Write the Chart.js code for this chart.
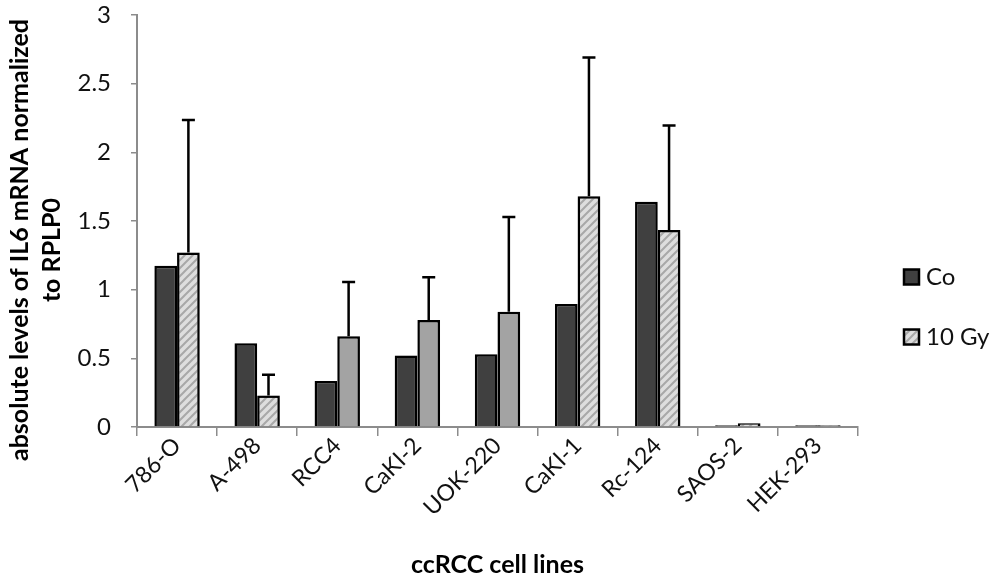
<!DOCTYPE html>
<html>
<head>
<meta charset="utf-8">
<script src="https://cdn.jsdelivr.net/npm/chart.js@4/dist/chart.umd.min.js"></script>
<style>
html,body{margin:0;padding:0;background:#fff;}
#wrap{width:992px;height:580px;position:relative;}
</style>
</head>
<body>
<div id="wrap"><canvas id="c" width="992" height="580"></canvas></div>
<script>
const categories = ['786-O','A-498','RCC4','CaKI-2','UOK-220','CaKI-1','Rc-124','SAOS-2','HEK-293'];
const seriesNames = ['Co','10 Gy'];
const coValues = [1.175, 0.61, 0.335, 0.52, 0.53, 0.895, 1.64, 0.012, 0.012];
const gyValues = [1.27, 0.23, 0.66, 0.78, 0.84, 1.68, 1.435, 0.027, 0.012];
const gyErrors = [0.965, 0.15, 0.395, 0.31, 0.69, 1.01, 0.76, 0, 0];
const gyHatched = [true, true, false, false, false, true, true, true, true];
const yTicks = [0, 0.5, 1, 1.5, 2, 2.5, 3];
const yTitle = ['absolute levels of IL6 mRNA normalized', 'to RPLP0'];
const xTitle = 'ccRCC cell lines';

const FONT = 'Lato, "Open Sans", sans-serif';

function makeHatch() {
  const c = document.createElement('canvas');
  c.width = 8; c.height = 8;
  const g = c.getContext('2d');
  g.fillStyle = '#dedede';
  g.fillRect(0, 0, 8, 8);
  g.strokeStyle = '#a8a8a8';
  g.lineWidth = 2;
  g.beginPath();
  g.moveTo(-2, 10); g.lineTo(10, -2);
  g.moveTo(-6, 6); g.lineTo(6, -6);
  g.moveTo(2, 14); g.lineTo(14, 2);
  g.stroke();
  return g.createPattern(c, 'repeat');
}
const hatch = makeHatch();
const coColor = '#404040';
const gySolid = '#a3a3a3';
const gyColors = gyHatched.map(h => h ? hatch : gySolid);

const errorBars = {
  id: 'errorBars',
  afterDatasetsDraw(chart) {
    const meta = chart.getDatasetMeta(1);
    const ys = chart.scales.y;
    const ctx = chart.ctx;
    ctx.save();
    ctx.strokeStyle = '#000';
    ctx.lineWidth = 2.5;
    meta.data.forEach((bar, i) => {
      const e = gyErrors[i];
      if (!e) return;
      const top = ys.getPixelForValue(gyValues[i] + e);
      ctx.beginPath();
      ctx.moveTo(bar.x, bar.y);
      ctx.lineTo(bar.x, top);
      ctx.moveTo(bar.x - 6.5, top);
      ctx.lineTo(bar.x + 6.5, top);
      ctx.stroke();
    });
    ctx.restore();
  }
};

const shadow = {
  id: 'barShadow',
  beforeDatasetsDraw(chart) {
    const ctx = chart.ctx;
    ctx.save();
    ctx.shadowColor = 'rgba(0,0,0,0.28)';
    ctx.shadowBlur = 5;
    ctx.shadowOffsetX = 1;
    ctx.shadowOffsetY = 1;
  },
  afterDatasetsDraw(chart) {
    chart.ctx.restore();
  }
};

const yTitlePlugin = {
  id: 'yTitle',
  afterDraw(chart) {
    const ctx = chart.ctx;
    ctx.save();
    ctx.font = 'bold 25px ' + FONT;
    ctx.fillStyle = '#000';
    ctx.textAlign = 'center';
    ctx.textBaseline = 'middle';
    [20, 52].forEach((x, i) => {
      ctx.save();
      ctx.translate(x, i === 0 ? 240 : 250);
      ctx.rotate(-Math.PI / 2);
      ctx.fillText(yTitle[i], 0, 0);
      ctx.restore();
    });
    ctx.restore();
  }
};

const legendPlugin = {
  id: 'customLegend',
  afterDraw(chart) {
    const ctx = chart.ctx;
    ctx.save();
    ctx.font = '24px ' + FONT;
    ctx.textBaseline = 'middle';
    ctx.textAlign = 'left';
    const items = [
      {label: chart.data.datasets[0].label, fill: coColor, y: 277},
      {label: chart.data.datasets[1].label, fill: hatch, y: 337}
    ];
    items.forEach(it => {
      ctx.fillStyle = it.fill;
      ctx.fillRect(904, it.y - 7.5, 15, 15);
      ctx.strokeStyle = '#000';
      ctx.lineWidth = 2.5;
      ctx.strokeRect(904, it.y - 7.5, 15, 15);
      ctx.fillStyle = '#111';
      ctx.fillText(it.label, 926, it.y);
    });
    ctx.restore();
  }
};

new Chart(document.getElementById('c'), {
  type: 'bar',
  data: {
    labels: categories,
    datasets: [
      {label: seriesNames[0], data: coValues, backgroundColor: coColor, borderColor: '#000', borderWidth: 2.5, barPercentage: 1, categoryPercentage: 0.566},
      {label: seriesNames[1], data: gyValues, backgroundColor: gyColors, borderColor: '#000', borderWidth: 2.5, barPercentage: 1, categoryPercentage: 0.566}
    ]
  },
  options: {
    responsive: false,
    animation: false,
    layout: {padding: {left: 0, right: 134, top: 0, bottom: 0}},
    plugins: {
      legend: {display: false},
      tooltip: {enabled: false}
    },
    scales: {
      x: {
        grid: {display: true, drawOnChartArea: false, drawTicks: true, tickLength: 9, color: '#8c8c8c', lineWidth: 1.5, offset: true},
        border: {color: '#8c8c8c', width: 2},
        ticks: {color: '#111', font: {family: FONT, size: 23}, maxRotation: 45, minRotation: 45, padding: -4, autoSkip: false},
        title: {display: true, text: xTitle, color: '#000', font: {family: FONT, size: 25, weight: 'bold'}, padding: {top: 0, bottom: 0}},
        afterFit(s) { s.height = 153; }
      },
      y: {
        min: 0, max: 3,
        afterBuildTicks(s) { s.ticks = yTicks.map(v => ({value: v})); },
        grid: {display: true, drawOnChartArea: false, drawTicks: true, tickLength: 6, color: '#8c8c8c', lineWidth: 1.5},
        border: {color: '#8c8c8c', width: 2},
        ticks: {color: '#111', font: {family: FONT, size: 24}, padding: 20, callback: v => String(v)},
        afterFit(s) { s.width = 137; s.paddingTop = 15; s.paddingBottom = 14; }
      }
    }
  },
  plugins: [shadow, errorBars, yTitlePlugin, legendPlugin]
});
</script>
</body>
</html>
